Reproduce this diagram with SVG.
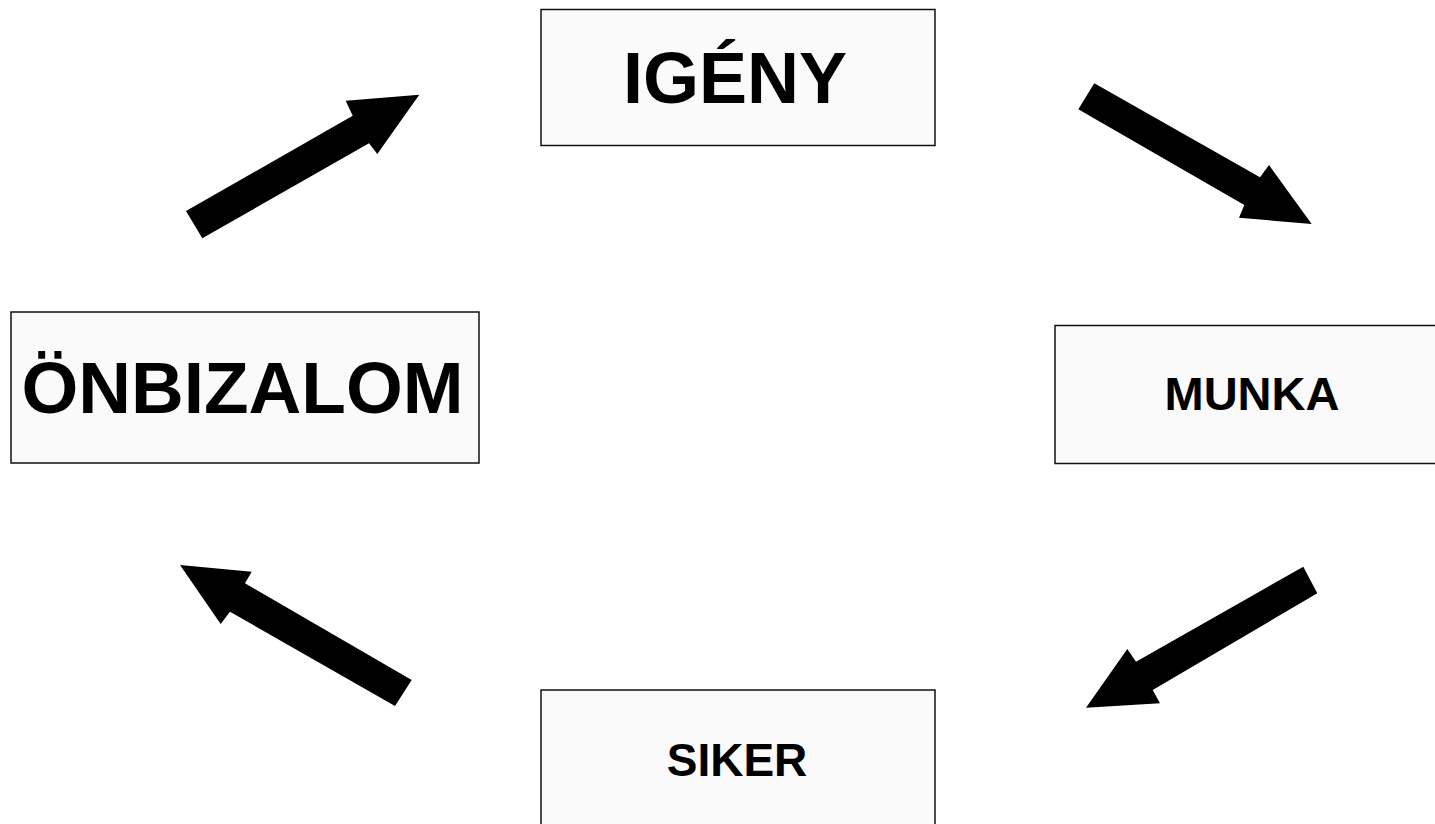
<svg xmlns="http://www.w3.org/2000/svg" width="1435" height="824" viewBox="0 0 1435 824">
<style>
.box{fill:#fafafa;stroke:#111;stroke-width:1.5}
.lbl{font-family:"Liberation Sans",Arial,sans-serif;font-weight:bold;fill:#000;text-anchor:middle}
.arr{fill:#000;stroke:none}
</style>
<rect x="0" y="0" width="1435" height="824" fill="#fff"/>
<g id="connectors">
<polygon class="arr" points="186,211 352.7,115.7 345.7,100.7 419.3,94.7 377.3,154 369,143.3 202.3,238.3"/>
<polygon class="arr" points="1094.3,83.3 1260,177.3 1269,165 1311.7,224 1239,217.7 1244.3,205 1078.3,109.3"/>
<polygon class="arr" points="1303.3,566.7 1136,661.7 1127.3,649 1086,707.7 1160,703.3 1152.7,690 1317.3,593.3"/>
<polygon class="arr" points="180,565 251.7,571.7 245,583.3 411.7,680 395,706 230,611.7 220.7,624"/>
</g>
<g id="igeny">
<rect class="box" x="541" y="9.5" width="394" height="136"/>
<text class="lbl" x="735" y="103" font-size="72">IGÉNY</text>
</g>
<g id="munka">
<rect class="box" x="1055" y="325.5" width="390" height="138"/>
<text class="lbl" x="1252" y="410" font-size="47">MUNKA</text>
</g>
<g id="siker">
<rect class="box" x="541" y="690" width="394" height="150"/>
<text class="lbl" x="737" y="776" font-size="46">SIKER</text>
</g>
<g id="onbizalom">
<rect class="box" x="11" y="312" width="468" height="151"/>
<text class="lbl" x="242.5" y="413" font-size="73">ÖNBIZALOM</text>
</g>
</svg>
